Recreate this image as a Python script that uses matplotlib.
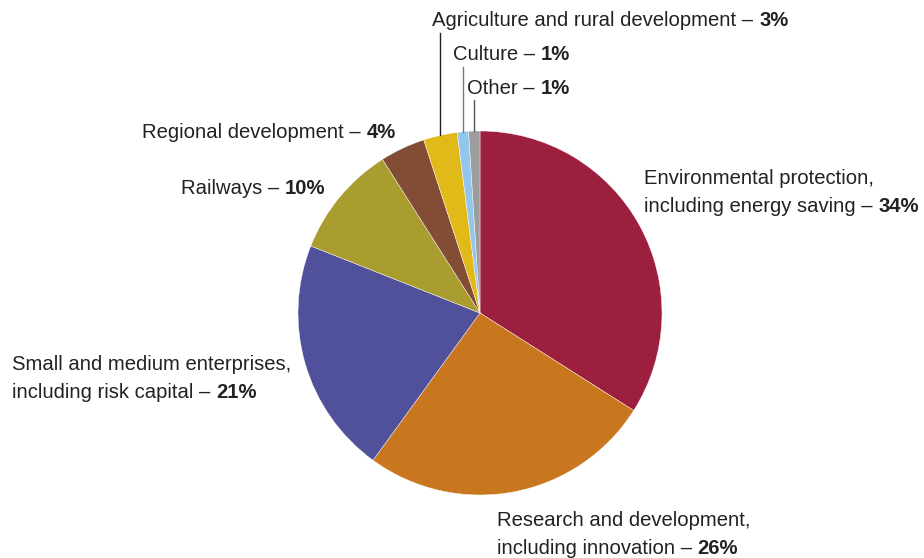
import numpy as np
import matplotlib.pyplot as plt

plt.rcParams['font.family'] = ['Liberation Sans', 'DejaVu Sans']

# EIB lending by sector, share of total (%)
sectors = ["Environmental protection,\nincluding energy saving",
           "Research and development,\nincluding innovation",
           "Small and medium enterprises,\nincluding risk capital",
           "Railways",
           "Regional development",
           "Agriculture and rural development",
           "Culture",
           "Other"]
shares = [34, 26, 21, 10, 4, 3, 1, 1]
colors = ["#9C1F40", "#C8771E", "#51509A", "#A99D2F",
          "#834C35", "#E1B918", "#93C6EC", "#9C9C9C"]

W, H = 924, 558
fig = plt.figure(figsize=(W / 100, H / 100), dpi=100)
ax = fig.add_axes([0, 0, 1, 1])

cx, cy, r = 480, H - 313, 182
wedges, _ = ax.pie(shares, colors=colors, startangle=90, counterclock=False,
                   center=(cx, cy), radius=r, frame=True,
                   wedgeprops=dict(edgecolor="white", linewidth=0.3))
ax.set_xlim(0, W)
ax.set_ylim(0, H)
ax.set_aspect("equal")
ax.axis("off")

fs = 14.6
tc = "#222222"


def label(x, y, text, pct, ha="left"):
    # last line gets the bold percentage appended
    lines = text.split("\n")
    step = 28
    for i, ln in enumerate(lines[:-1]):
        ax.text(x, y - i * step, ln, fontsize=fs, color=tc, ha=ha, va="center")
    yy = y - (len(lines) - 1) * step
    if ha == "left":
        t = ax.text(x, yy, lines[-1] + " \u2013 ", fontsize=fs, color=tc,
                    ha="left", va="center")
        ax.annotate(f"{pct}%", xy=(1, 0), xycoords=t, va="bottom", ha="left",
                    fontsize=fs, color=tc, fontweight="bold")
    else:
        t = ax.text(x, yy, f"{pct}%", fontsize=fs, color=tc, ha="right",
                    va="center", fontweight="bold")
        ax.annotate(lines[-1] + " \u2013 ", xy=(0, 0), xycoords=t,
                    va="bottom", ha="right", fontsize=fs, color=tc)


label(644, H - 178, sectors[0], shares[0])
label(497, H - 521, sectors[1], shares[1])
label(12, H - 365, sectors[2], shares[2])
label(325, H - 188, sectors[3], shares[3], ha="right")
label(396, H - 133, sectors[4], shares[4], ha="right")

# small slices: vertical leader lines from wedge midpoint up to label
tops = [H - 33, H - 67, H - 100]
text_y = [H - 20, H - 55, H - 88]
offsets = [8, 10, 7]
line_cols = ["#222222", "#777777", "#555555"]
for k, idx in enumerate([5, 6, 7]):
    w = wedges[idx]
    ang = np.deg2rad((w.theta1 + w.theta2) / 2)
    x = cx + r * np.cos(ang)
    y = cy + r * np.sin(ang)
    ax.plot([x, x], [y, tops[k]], color=line_cols[k], lw=1)
    label(x - offsets[k], text_y[k], sectors[idx], shares[idx])

fig.savefig("out.png", dpi=100)
